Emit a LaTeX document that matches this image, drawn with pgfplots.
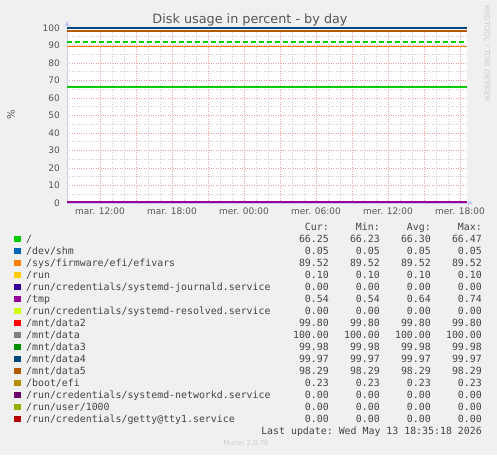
\documentclass[border=0pt]{standalone}
\usepackage{pgfplots}
\pgfplotsset{compat=1.18}
\usepackage{fontspec}
\setmainfont{DejaVu Sans}
\setmonofont{DejaVu Sans Mono}
\usetikzlibrary{arrows.meta}

\definecolor{bg}{HTML}{F0F0F0}
\definecolor{txt}{HTML}{555555}
\definecolor{legtxt}{HTML}{444444}
\definecolor{faint}{HTML}{CCCCCC}
\definecolor{axisblue}{HTML}{C8C8F0}
\definecolor{majgrid}{HTML}{F0A0A0}
\definecolor{mingrid}{HTML}{D0D0D0}

\definecolor{cRoot}{HTML}{00CC00}
\definecolor{cShm}{HTML}{0066B3}
\definecolor{cEfivars}{HTML}{FF8000}
\definecolor{cRun}{HTML}{FFCC00}
\definecolor{cJournald}{HTML}{330099}
\definecolor{cTmp}{HTML}{990099}
\definecolor{cResolved}{HTML}{CCFF00}
\definecolor{cData2}{HTML}{FF0000}
\definecolor{cData}{HTML}{808080}
\definecolor{cData3}{HTML}{008F00}
\definecolor{cData4}{HTML}{00487D}
\definecolor{cData5}{HTML}{B35A00}
\definecolor{cBoot}{HTML}{B38F00}
\definecolor{cNetworkd}{HTML}{6B006B}
\definecolor{cUser}{HTML}{8FB300}
\definecolor{cGetty}{HTML}{B30000}

% one legend row: index, colour, name, cur, min, avg, max
\newcommand{\legrow}[7]{%
  \fill[#2] (14pt,{216pt-#1*12pt-3.25pt}) rectangle +(6.5pt,6.5pt);
  \node[anchor=base west,inner sep=0pt,text=legtxt] at (26pt,{212.5pt-#1*12pt}) {#3};
  \node[anchor=base east,inner sep=0pt,text=legtxt] at (329pt,{212.5pt-#1*12pt}) {#4};
  \node[anchor=base east,inner sep=0pt,text=legtxt] at (380pt,{212.5pt-#1*12pt}) {#5};
  \node[anchor=base east,inner sep=0pt,text=legtxt] at (431pt,{212.5pt-#1*12pt}) {#6};
  \node[anchor=base east,inner sep=0pt,text=legtxt] at (482pt,{212.5pt-#1*12pt}) {#7};
}

\begin{document}
\begin{tikzpicture}
\fill[bg] (0pt,0pt) rectangle (497pt,455pt);

\begin{axis}[
  at={(67pt,252pt)}, anchor=south west,
  width=400pt, height=176.05pt, scale only axis,
  xmin=9.25, xmax=42.58, ymin=0, ymax=100.6,
  axis lines=left,
  axis line style={color=axisblue, line width=0.8pt, shorten >=-6pt,
    -{Triangle[length=5pt,width=5pt]}},
  axis background/.style={fill=white},
  xtick={12,15,...,42},
  xticklabels={mar. 12:00,,mar. 18:00,,mer. 00:00,,mer. 06:00,,mer. 12:00,,mer. 18:00},
  minor x tick num=2,
  ytick={0,10,...,100},
  minor y tick num=1,
  grid=both,
  major grid style={color=majgrid, dotted, line width=0.6pt},
  minor grid style={color=mingrid, dotted, line width=0.6pt},
  major tick length=0pt, minor tick length=0pt,
  tick style={draw=none},
  /pgf/number format/assume math mode=true,
  ticklabel style={font=\fontsize{9}{11}\selectfont, text=txt, inner sep=0pt},
  xticklabel style={yshift=-5pt},
  yticklabel style={xshift=-7pt},
  ylabel={\%},
  ylabel style={at={(axis description cs:-0.14,0.5)}, anchor=center,
    font=\fontsize{10}{12}\selectfont, text=txt},
  every axis plot/.append style={line width=1.5pt},
]
% series near zero
\addplot[draw=cShm] coordinates {(9.25,0.05) (42.58,0.05)};
\addplot[draw=cRun] coordinates {(9.25,0.10) (42.58,0.10)};
\addplot[draw=cJournald] coordinates {(9.25,0.00) (42.58,0.00)};
\addplot[draw=cResolved] coordinates {(9.25,0.00) (42.58,0.00)};
\addplot[draw=cBoot] coordinates {(9.25,0.23) (42.58,0.23)};
\addplot[draw=cNetworkd] coordinates {(9.25,0.00) (42.58,0.00)};
\addplot[draw=cUser] coordinates {(9.25,0.00) (42.58,0.00)};
\addplot[draw=cGetty] coordinates {(9.25,0.00) (42.58,0.00)};
\addplot[draw=cTmp, line width=2pt] coordinates {(9.25,0.54) (42.58,0.54)};
% the others
\addplot[draw=cRoot] coordinates {(9.25,66.30) (42.58,66.30)};
\addplot[draw=cEfivars] coordinates {(9.25,89.52) (42.58,89.52)};
\addplot[draw=cData2] coordinates {(9.25,99.80) (42.58,99.80)};
\addplot[draw=cData] coordinates {(9.25,100.00) (42.58,100.00)};
\addplot[draw=cData3] coordinates {(9.25,99.98) (42.58,99.98)};
\addplot[draw=cData4] coordinates {(9.25,99.97) (42.58,99.97)};
\addplot[draw=cData5] coordinates {(9.25,98.29) (42.58,98.29)};
% warning level for /
\addplot[draw=cRoot, dash pattern=on 5pt off 3pt, line width=1.3pt] coordinates {(9.25,92) (42.58,92)};
\end{axis}

\node[anchor=base, inner sep=0pt, text=txt, font=\fontsize{12.8}{14}\selectfont]
  at (250pt,431pt) {Disk usage in percent - by day};
\node[rotate=-90, inner sep=0pt, text=faint, font=\fontsize{7.5}{9}\selectfont]
  at (487pt,401.5pt) {RRDTOOL / TOBI OETIKER};

\begin{scope}[font=\ttfamily\fontsize{9.9}{12}\selectfont]
\node[anchor=base east,inner sep=0pt,text=legtxt] at (329pt,224.5pt) {Cur:};
\node[anchor=base east,inner sep=0pt,text=legtxt] at (380pt,224.5pt) {Min:};
\node[anchor=base east,inner sep=0pt,text=legtxt] at (431pt,224.5pt) {Avg:};
\node[anchor=base east,inner sep=0pt,text=legtxt] at (482pt,224.5pt) {Max:};
\legrow{0}{cRoot}{/}{66.25}{66.23}{66.30}{66.47}
\legrow{1}{cShm}{/dev/shm}{0.05}{0.05}{0.05}{0.05}
\legrow{2}{cEfivars}{/sys/firmware/efi/efivars}{89.52}{89.52}{89.52}{89.52}
\legrow{3}{cRun}{/run}{0.10}{0.10}{0.10}{0.10}
\legrow{4}{cJournald}{/run/credentials/systemd-journald.service}{0.00}{0.00}{0.00}{0.00}
\legrow{5}{cTmp}{/tmp}{0.54}{0.54}{0.64}{0.74}
\legrow{6}{cResolved}{/run/credentials/systemd-resolved.service}{0.00}{0.00}{0.00}{0.00}
\legrow{7}{cData2}{/mnt/data2}{99.80}{99.80}{99.80}{99.80}
\legrow{8}{cData}{/mnt/data}{100.00}{100.00}{100.00}{100.00}
\legrow{9}{cData3}{/mnt/data3}{99.98}{99.98}{99.98}{99.98}
\legrow{10}{cData4}{/mnt/data4}{99.97}{99.97}{99.97}{99.97}
\legrow{11}{cData5}{/mnt/data5}{98.29}{98.29}{98.29}{98.29}
\legrow{12}{cBoot}{/boot/efi}{0.23}{0.23}{0.23}{0.23}
\legrow{13}{cNetworkd}{/run/credentials/systemd-networkd.service}{0.00}{0.00}{0.00}{0.00}
\legrow{14}{cUser}{/run/user/1000}{0.00}{0.00}{0.00}{0.00}
\legrow{15}{cGetty}{/run/credentials/getty@tty1.service}{0.00}{0.00}{0.00}{0.00}
\node[anchor=base east,inner sep=0pt,text=legtxt] at (482pt,20.5pt) {Last update: Wed May 13 18:35:18 2026};
\end{scope}
\node[anchor=base, inner sep=0pt, text=faint, font=\fontsize{6.9}{8}\selectfont]
  at (246pt,9.5pt) {Munin 2.0.76};
\end{tikzpicture}
\end{document}
